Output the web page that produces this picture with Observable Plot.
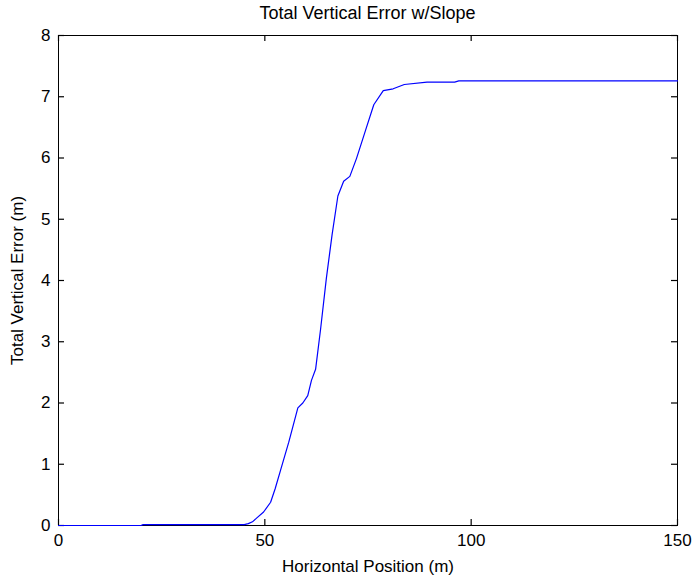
<!DOCTYPE html>
<html>
<head>
<meta charset="utf-8">
<script src="https://cdn.jsdelivr.net/npm/d3@7"></script>
<script src="https://cdn.jsdelivr.net/npm/@observablehq/plot@0.6"></script>
<style>
  body { margin: 0; background: #fff; font-family: "Liberation Sans", Arial, sans-serif; }
  #title { width: 661px; padding-left: 37px; height: 26px; line-height: 26px; text-align: center; font-size: 18px; color: #000; }
</style>
</head>
<body>
<div id="title">Total Vertical Error w/Slope</div>
<div id="chart"></div>
<script>
// Horizontal position (m) and accumulated vertical error (m)
const position = [0, 20, 20.5, 45, 46, 47, 48, 49.7, 51.4, 52.5, 53.8, 55.8, 58, 59.2, 60.4, 61.3, 62.3, 63.5, 64.9, 66.3, 67.7, 69.1, 70.6, 72.2, 74.4, 76.4, 78.7, 81.1, 83.8, 89.3, 96, 97, 150];
const verticalError = [0, 0, 0.015, 0.015, 0.03, 0.06, 0.12, 0.22, 0.38, 0.6, 0.9, 1.36, 1.92, 2.0, 2.12, 2.37, 2.55, 3.2, 4.03, 4.75, 5.38, 5.62, 5.70, 5.99, 6.45, 6.87, 7.10, 7.13, 7.20, 7.24, 7.24, 7.26, 7.26];

const xTicks = [0, 50, 100, 150];
const yTicks = [0, 1, 2, 3, 4, 5, 6, 7, 8];
const xLabel = "Horizontal Position (m)";
const yLabel = "Total Vertical Error (m)";

const data = position.map((x, i) => ({x, y: verticalError[i]}));
const fmt = d3.format("d");

// plot box geometry (pixels)
const W = 698, H = 551, mT = 9, mB = 52, mL = 58, mR = 21;
const frameW = W - mL - mR, frameH = H - mT - mB, tickLen = 6;

const chart = Plot.plot({
  width: W,
  height: H,
  marginTop: mT,
  marginBottom: mB,
  marginLeft: mL,
  marginRight: mR,
  style: {fontFamily: "Liberation Sans, Arial, sans-serif", fontSize: "17px", color: "#000", background: "#fff"},
  x: {domain: [0, 150]},
  y: {domain: [0, 8]},
  marks: [
    Plot.frame({stroke: "#000", strokeWidth: 1}),
    // inward tick marks on all four sides
    Plot.tickX(xTicks, {x: d => d, stroke: "#000", strokeWidth: 1.2, insetTop: frameH - tickLen}),
    Plot.tickX(xTicks, {x: d => d, stroke: "#000", strokeWidth: 1.2, insetBottom: frameH - tickLen}),
    Plot.tickY(yTicks, {y: d => d, stroke: "#000", strokeWidth: 1.2, insetRight: frameW - tickLen}),
    Plot.tickY(yTicks, {y: d => d, stroke: "#000", strokeWidth: 1.2, insetLeft: frameW - tickLen}),
    // labels along the bottom and left
    Plot.axisX(xTicks, {anchor: "bottom", tickSize: 0, tickPadding: 8, tickFormat: fmt, label: xLabel, labelAnchor: "center", labelOffset: 46, labelArrow: "none", fontSize: 17}),
    Plot.axisY(yTicks, {anchor: "left", tickSize: 0, tickPadding: 8, tickFormat: fmt, label: yLabel, labelAnchor: "center", labelOffset: 48, labelArrow: "none", fontSize: 17}),
    Plot.line(data, {x: "x", y: "y", stroke: "#0000ff", strokeWidth: 1.2})
  ]
});
document.getElementById("chart").appendChild(chart);
</script>
</body>
</html>
